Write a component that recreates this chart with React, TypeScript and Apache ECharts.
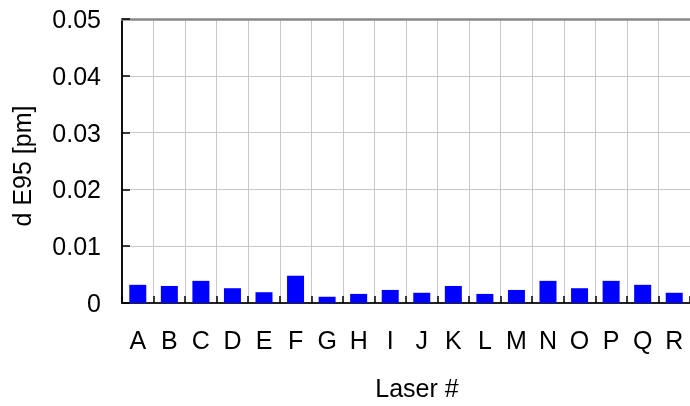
import React, { useEffect, useRef } from "react";
import * as echarts from "echarts";

const categories = ["A", "B", "C", "D", "E", "F", "G", "H", "I", "J", "K", "L", "M", "N", "O", "P", "Q", "R"];
const dE95 = [0.0032, 0.003, 0.0039, 0.0026, 0.0019, 0.0048, 0.0011, 0.0016, 0.0023, 0.0018, 0.003, 0.0016, 0.0023, 0.0039, 0.0026, 0.0039, 0.0032, 0.0018];
const yTicks = [0, 0.01, 0.02, 0.03, 0.04, 0.05];

export default function App() {
  const ref = useRef<HTMLDivElement>(null);
  useEffect(() => {
    document.body.style.margin = "0";
    const chart = echarts.init(ref.current!, null, { renderer: "svg" });
    const font = "'Liberation Sans', Arial, sans-serif";
    chart.setOption({
      animation: false,
      grid: { left: 122, top: 19, width: 576, height: 284, containLabel: false },
      xAxis: [
        {
          type: "category",
          data: categories,
          name: "Laser #",
          nameLocation: "middle",
          nameGap: 72,
          nameTextStyle: { fontFamily: font, fontSize: 25, color: "#000", padding: [0, 0, 0, 22] },
          axisLine: { show: true, lineStyle: { color: "#222", width: 2 } },
          axisTick: { show: true, inside: true, length: 7, alignWithLabel: false, lineStyle: { color: "#000", width: 1.5 } },
          axisLabel: { fontFamily: font, fontSize: 25, color: "#000", margin: 24, interval: 0 },
          splitLine: { show: true, interval: 0, lineStyle: { color: "#c8c8c8", width: 1 } },
        },
        {
          type: "category",
          data: categories,
          position: "top",
          axisLine: { show: true, lineStyle: { color: "#888", width: 2.5 } },
          axisTick: { show: false },
          axisLabel: { show: false },
          splitLine: { show: false },
        },
      ],
      yAxis: {
        type: "value",
        min: yTicks[0],
        max: yTicks[yTicks.length - 1],
        interval: 0.01,
        name: "d E95 [pm]",
        nameLocation: "middle",
        nameGap: 88,
        nameTextStyle: { fontFamily: font, fontSize: 25, color: "#000", padding: [0, 10, 0, 0] },
        axisLine: { show: true, lineStyle: { color: "#111", width: 2 } },
        axisTick: { show: true, inside: true, length: 8, lineStyle: { color: "#000", width: 1.5 } },
        axisLabel: {
          fontFamily: font,
          fontSize: 25,
          color: "#000",
          margin: 21,
          formatter: (v: number) => (v === 0 ? "0" : v.toFixed(2)),
        },
        splitLine: { show: true, lineStyle: { color: "#c8c8c8", width: 1 } },
      },
      series: [
        {
          type: "bar",
          data: dE95,
          barWidth: 17,
          itemStyle: { color: "#0000ff" },
        },
      ],
    });
    return () => chart.dispose();
  }, []);
  return <div ref={ref} style={{ position: "fixed", left: 0, top: 0, width: 690, height: 406 }} />;
}
